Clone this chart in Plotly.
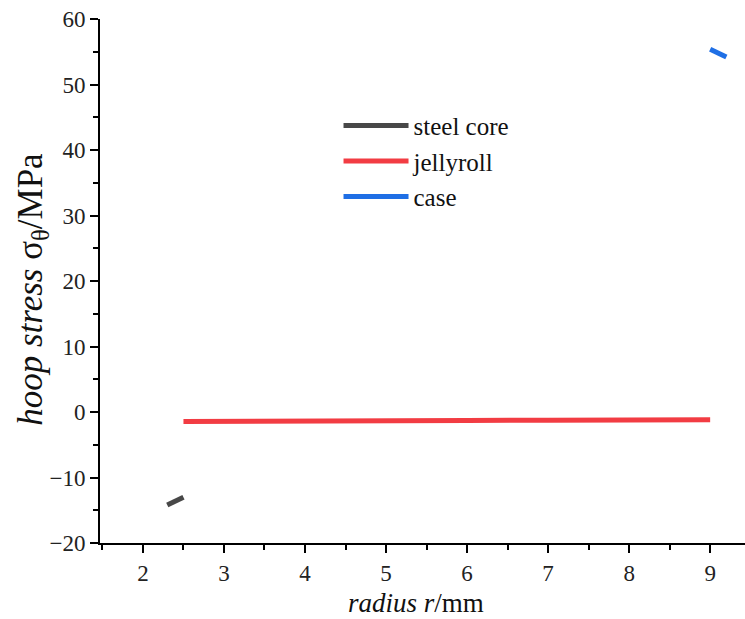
import plotly.graph_objects as go

# ---- data ----
steel_r = [2.3, 2.4, 2.5]
steel_s = [-14.2, -13.6, -13.0]
jelly_r = [2.5, 3.0, 4.0, 5.0, 6.0, 7.0, 8.0, 9.0]
jelly_s = [-1.45, -1.4, -1.35, -1.3, -1.28, -1.25, -1.22, -1.2]
case_r = [9.0, 9.1, 9.2]
case_s = [55.4, 54.8, 54.2]

names = ["steel core", "jellyroll", "case"]
colors = ["#484848", "#f23c43", "#1f6fe5"]

x_title = "<i>radius r</i>/mm"
y_title = "<i>hoop stress</i> σ<sub>θ</sub>/MPa"

FONT = "Liberation Serif"

fig = go.Figure()
for i, (x, y) in enumerate([(steel_r, steel_s), (jelly_r, jelly_s), (case_r, case_s)]):
    fig.add_trace(go.Scatter(x=x, y=y, mode="lines", name=names[i],
                             line=dict(color=colors[i], width=5)))

axis_common = dict(showline=True, linecolor="black", linewidth=2,
                   ticks="outside", tickcolor="black", tickwidth=2, ticklen=8,
                   showgrid=False, zeroline=False, mirror=False,
                   tickfont=dict(family=FONT, size=23, color="#222"))

fig.update_xaxes(range=[1.47, 9.43], dtick=1, tick0=0,
                 minor=dict(ticks="outside", ticklen=5, tickwidth=2, tickcolor="black", dtick=0.5),
                 **axis_common)
fig.update_yaxes(range=[-20, 60], dtick=10, tick0=0,
                 minor=dict(ticks="outside", ticklen=5, tickwidth=2, tickcolor="black", dtick=5),
                 **axis_common)

fig.add_annotation(text=x_title, showarrow=False,
                   xref="paper", yref="paper", x=0.49, y=-0.1441,
                   xanchor="center", yanchor="bottom", borderpad=0,
                   font=dict(family=FONT, size=27, color="#111"))
fig.add_annotation(text=y_title, textangle=-90, showarrow=False,
                   xref="paper", yref="paper", x=-0.104, y=0.485,
                   xanchor="center", yanchor="middle", borderpad=0,
                   font=dict(family=FONT, size=35, color="#111"))

fig.update_layout(
    width=745, height=619,
    margin=dict(l=100, r=0, t=19, b=76),
    paper_bgcolor="white", plot_bgcolor="white",
    showlegend=True,
    legend=dict(x=0.3698, y=0.84, xanchor="left", yanchor="top",
                font=dict(family=FONT, size=25, color="#111"),
                bgcolor="rgba(0,0,0,0)", itemwidth=65, tracegroupgap=0),
)

fig.write_html("out.html")
